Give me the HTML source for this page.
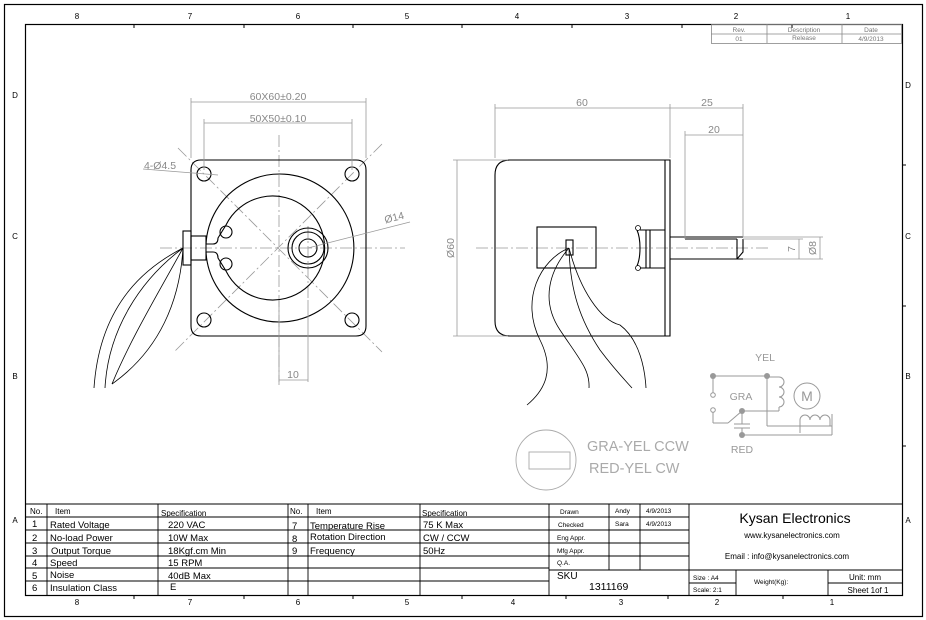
<!DOCTYPE html>
<html><head><meta charset="utf-8"><style>
html,body{margin:0;padding:0;background:#fff;}
svg{display:block;font-family:"Liberation Sans",sans-serif;}
</style></head><body>
<svg width="926" height="620" viewBox="0 0 926 620" xmlns="http://www.w3.org/2000/svg">
<rect width="926" height="620" fill="#fff"/>
<!-- frames -->
<rect x="4.5" y="4.5" width="918" height="612" fill="none" stroke="#000" stroke-width="1.2"/>
<rect x="25.5" y="24.5" width="877" height="571" fill="none" stroke="#000" stroke-width="1.2"/>
<g font-size="8" text-anchor="middle" fill="#000">
<text x="77" y="19">8</text><text x="190" y="19">7</text><text x="298" y="19">6</text><text x="407" y="19">5</text><text x="517" y="19">4</text><text x="627" y="19">3</text><text x="736" y="19">2</text><text x="848" y="19">1</text>
<text x="77" y="605">8</text><text x="190" y="605">7</text><text x="298" y="605">6</text><text x="407" y="605">5</text><text x="513" y="605">4</text><text x="621" y="605">3</text><text x="717" y="605">2</text><text x="832" y="605">1</text>
<text x="15" y="98">D</text><text x="15" y="239">C</text><text x="15" y="379">B</text><text x="15" y="523">A</text>
<text x="908" y="88">D</text><text x="908" y="239">C</text><text x="908" y="379">B</text><text x="908" y="523">A</text>
</g>
<g stroke="#000" stroke-width="1">
<line x1="134" y1="24" x2="134" y2="28"/><line x1="244" y1="24" x2="244" y2="28"/><line x1="353" y1="24" x2="353" y2="28"/><line x1="462" y1="24" x2="462" y2="28"/><line x1="572" y1="24" x2="572" y2="28"/><line x1="682" y1="24" x2="682" y2="28"/><line x1="792" y1="24" x2="792" y2="28"/>
<line x1="134" y1="595" x2="134" y2="599"/><line x1="244" y1="595" x2="244" y2="599"/><line x1="353" y1="595" x2="353" y2="599"/><line x1="462" y1="595" x2="462" y2="599"/><line x1="566" y1="595" x2="566" y2="599"/><line x1="668" y1="595" x2="668" y2="599"/><line x1="783" y1="595" x2="783" y2="599"/>
<line x1="902" y1="165" x2="906" y2="165"/><line x1="902" y1="306" x2="906" y2="306"/><line x1="902" y1="446" x2="906" y2="446"/>
</g>
<!-- revision block -->
<g stroke="#888" stroke-width="0.8" fill="none">
<rect x="711.5" y="24.5" width="190" height="19"/><line x1="711" y1="34" x2="901" y2="34"/><line x1="767" y1="24" x2="767" y2="43"/><line x1="842" y1="24" x2="842" y2="43"/>
</g>
<g font-size="6.5" fill="#777" text-anchor="middle"><text x="739" y="32">Rev.</text><text x="804" y="32">Description</text><text x="871" y="32">Date</text>
<text x="739" y="41">01</text><text x="804" y="40">Release</text><text x="871" y="41">4/9/2013</text></g>

<!-- FRONT VIEW -->
<g stroke="#999" stroke-width="0.8" fill="none" stroke-dasharray="12 3 2 3">
<line x1="160" y1="248" x2="405" y2="248"/><line x1="279" y1="135" x2="279" y2="385"/>
<line x1="178" y1="148" x2="382" y2="352"/><line x1="382" y1="144" x2="174" y2="352"/>
<line x1="308" y1="226" x2="308" y2="300"/>
</g>
<g stroke="#000" stroke-width="1.1" fill="none">
<path d="M201,160 H356 Q366,160 366,170 V326 Q366,336 356,336 H201 Q191,336 191,326 V170 Q191,160 201,160 Z"/>
<path d="M206,244 A74,74 0 1 1 206,252"/>
<path d="M206,244 H213 M206,252 H213"/>
<path d="M213,244 Q218,244 218,238 L226,225 A52,52 0 1 1 226,271 L218,258 Q218,252 213,252"/>
<circle cx="226" cy="232" r="6"/><circle cx="226" cy="264" r="6"/>
<circle cx="204" cy="174" r="7"/><circle cx="352" cy="174" r="7"/><circle cx="204" cy="320" r="7"/><circle cx="352" cy="320" r="7"/>
<circle cx="308" cy="248" r="20"/><circle cx="308" cy="248" r="16"/><circle cx="308" cy="248" r="9"/>
<rect x="183" y="231" width="8" height="34"/><rect x="191" y="236" width="15" height="24"/>
</g>
<g stroke="#000" stroke-width="0.8" fill="none">
<path d="M183,248 C150,265 100,300 94,388"/><path d="M183,248 C140,280 108,330 105,388"/>
<path d="M183,248 C160,290 130,340 112,384"/><path d="M183,248 C180,300 160,350 112,384"/>
</g>
<g stroke="#999" stroke-width="0.8" fill="none">
<line x1="191" y1="158" x2="191" y2="98"/><line x1="366" y1="158" x2="366" y2="98"/><line x1="191" y1="102" x2="366" y2="102"/>
<line x1="204" y1="170" x2="204" y2="119"/><line x1="352" y1="170" x2="352" y2="119"/><line x1="204" y1="123" x2="352" y2="123"/>
<line x1="279" y1="300" x2="279" y2="382"/><line x1="308" y1="300" x2="308" y2="382"/><line x1="279" y1="380" x2="308" y2="380"/>
<line x1="143" y1="169" x2="218" y2="175"/>
<line x1="308" y1="248" x2="410" y2="222"/>
</g>
<g font-size="10.5" fill="#888" text-anchor="middle">
<text x="278" y="100">60X60±0.20</text><text x="278" y="122">50X50±0.10</text>
<text x="293" y="378">10</text><text x="160" y="169">4-Ø4.5</text><text x="395" y="221" transform="rotate(-14 395 221)">Ø14</text>
</g>

<!-- SIDE VIEW -->
<g stroke="#999" stroke-width="0.8" fill="none" stroke-dasharray="12 3 2 3">
<line x1="476" y1="248" x2="768" y2="248"/>
</g>
<g stroke="#000" stroke-width="1.1" fill="none">
<path d="M510,160 H670 V336 H510 Q495,336 495,321 V175 Q495,160 510,160 Z"/>
<line x1="665" y1="160" x2="665" y2="336"/>
<rect x="537" y="227" width="59" height="41"/>
<rect x="566" y="240" width="7" height="15"/>
<path d="M637,230 Q640,237 640,248 Q640,259 637,266"/>
<path d="M640,230 H665 M640,268 H665 M646,230 V268 M650,230 V268"/>
<path d="M670,237 H743 M670,259 H743 M685,239 H737 M737,239 V259 M737,259 L743,252 V239"/>
</g>
<circle cx="638" cy="228" r="2.5" fill="#fff" stroke="#000" stroke-width="0.8"/>
<circle cx="638" cy="268" r="2.5" fill="#fff" stroke="#000" stroke-width="0.8"/>
<g stroke="#000" stroke-width="0.8" fill="none">
<path d="M569,248 C540,260 520,300 540,340 C555,370 545,390 527,405"/>
<path d="M569,248 C550,270 540,300 560,330 C580,360 590,370 589,388"/>
<path d="M569,248 C570,290 580,320 600,350 C615,370 625,380 632,388"/>
<path d="M569,248 C580,290 600,320 620,325 C640,340 645,370 646,388"/>
</g>
<g stroke="#999" stroke-width="0.8" fill="none">
<line x1="495" y1="158" x2="495" y2="104"/><line x1="670" y1="158" x2="670" y2="104"/><line x1="743" y1="237" x2="743" y2="104"/>
<line x1="495" y1="108" x2="743" y2="108"/>
<line x1="685" y1="239" x2="685" y2="131"/><line x1="685" y1="135" x2="743" y2="135"/>
<line x1="508" y1="160" x2="453" y2="160"/><line x1="508" y1="336" x2="453" y2="336"/><line x1="457" y1="160" x2="457" y2="336"/>
<line x1="743" y1="239" x2="803" y2="239"/><line x1="743" y1="259" x2="823" y2="259"/><line x1="743" y1="237" x2="823" y2="237"/>
<line x1="799" y1="239" x2="799" y2="259"/><line x1="820" y1="237" x2="820" y2="259"/>
</g>
<g font-size="10.5" fill="#888" text-anchor="middle">
<text x="582" y="106">60</text><text x="707" y="106">25</text><text x="714" y="133">20</text>
<text x="454" y="248" transform="rotate(-90 454 248)">Ø60</text>
<text x="795" y="249" transform="rotate(-90 795 249)">7</text>
<text x="816" y="248" transform="rotate(-90 816 248)">Ø8</text>
</g>

<!-- schematic -->
<g stroke="#999" stroke-width="1" fill="none">
<line x1="713" y1="376" x2="767" y2="376"/><line x1="713" y1="376" x2="713" y2="393"/>
<line x1="767" y1="376" x2="767" y2="426"/><line x1="767" y1="426" x2="832" y2="426"/><line x1="832" y1="426" x2="832" y2="414"/>
<path d="M767,377 H779 M779,377 a5,5 0 0 1 0,10 a5,5 0 0 1 0,10 a5,5 0 0 1 0,10"/>
<line x1="742" y1="411" x2="779" y2="411"/><line x1="779" y1="411" x2="779" y2="407"/>
<path d="M800,420 a5,5 0 0 1 10,0 a5,5 0 0 1 10,0 a5,5 0 0 1 10,0 v6"/><line x1="800" y1="420" x2="800" y2="433"/>
<line x1="742" y1="435" x2="832" y2="435"/><line x1="832" y1="435" x2="832" y2="426"/>
<line x1="713" y1="412" x2="713" y2="423"/><line x1="713" y1="423" x2="728" y2="423"/><line x1="728" y1="423" x2="742" y2="411"/>
<line x1="742" y1="411" x2="742" y2="424"/><line x1="734" y1="424" x2="750" y2="424"/><line x1="734" y1="428" x2="750" y2="428"/><line x1="742" y1="428" x2="742" y2="435"/>
<circle cx="807" cy="396" r="13"/>
</g>
<g fill="#999"><circle cx="713" cy="376" r="3"/><circle cx="767" cy="376" r="3"/><circle cx="742" cy="411" r="3"/><circle cx="742" cy="435" r="3"/></g>
<g fill="#fff" stroke="#999"><circle cx="713" cy="395" r="2.3"/><circle cx="713" cy="410" r="2.3"/></g>
<g font-size="10.5" fill="#999" text-anchor="middle"><text x="765" y="361">YEL</text><text x="741" y="400">GRA</text><text x="742" y="453">RED</text><text x="807" y="401" font-size="14">M</text></g>

<circle cx="546" cy="460" r="30" fill="none" stroke="#aaa" stroke-width="0.9"/>
<rect x="529" y="452" width="41" height="17" fill="none" stroke="#aaa" stroke-width="0.9"/>
<g font-size="14.5" fill="#aaa"><text x="587" y="451">GRA-YEL  CCW</text><text x="589" y="473">RED-YEL  CW</text></g>

<!-- spec table -->
<g stroke="#000" stroke-width="0.9" fill="none">
<line x1="25" y1="504" x2="902" y2="504"/>
<line x1="25" y1="517" x2="549" y2="517"/><line x1="25" y1="530" x2="549" y2="530"/><line x1="25" y1="543" x2="549" y2="543"/><line x1="25" y1="556" x2="549" y2="556"/><line x1="25" y1="568" x2="549" y2="568"/><line x1="25" y1="581" x2="549" y2="581"/>
<line x1="47" y1="504" x2="47" y2="595"/><line x1="158" y1="504" x2="158" y2="595"/><line x1="288" y1="504" x2="288" y2="595"/><line x1="308" y1="504" x2="308" y2="595"/><line x1="420" y1="504" x2="420" y2="595"/><line x1="549" y1="504" x2="549" y2="595"/>
<line x1="549" y1="517" x2="689" y2="517"/><line x1="549" y1="530" x2="689" y2="530"/><line x1="549" y1="543" x2="689" y2="543"/><line x1="549" y1="556" x2="689" y2="556"/><line x1="549" y1="570" x2="902" y2="570"/>
<line x1="609" y1="504" x2="609" y2="570"/><line x1="640" y1="504" x2="640" y2="570"/><line x1="689" y1="504" x2="689" y2="595"/>
<line x1="736" y1="570" x2="736" y2="595"/><line x1="828" y1="570" x2="828" y2="595"/>
<line x1="689" y1="583" x2="736" y2="583"/><line x1="828" y1="583" x2="902" y2="583"/>
</g>
<g font-size="8" fill="#000">
<text x="30" y="514">No.</text><text x="55" y="514">Item</text><text x="161" y="516">Specification</text>
<text x="290" y="514">No.</text><text x="316" y="514">Item</text><text x="422" y="516">Specification</text>
</g>
<g font-size="9.5" fill="#000">
<text x="32" y="527">1</text><text x="50" y="528">Rated Voltage</text><text x="168" y="528">220 VAC</text>
<text x="32" y="541">2</text><text x="50" y="541">No-load Power</text><text x="168" y="541">10W Max</text>
<text x="32" y="554">3</text><text x="51" y="554">Output Torque</text><text x="168" y="554">18Kgf.cm Min</text>
<text x="32" y="566">4</text><text x="50" y="566">Speed</text><text x="168" y="566">15 RPM</text>
<text x="32" y="579">5</text><text x="50" y="578">Noise</text><text x="168" y="579">40dB Max</text>
<text x="32" y="591">6</text><text x="50" y="591">Insulation Class</text><text x="170" y="590">E</text>
<text x="292" y="529">7</text><text x="310" y="529">Temperature Rise</text><text x="423" y="528">75 K Max</text>
<text x="292" y="542">8</text><text x="310" y="540">Rotation Direction</text><text x="423" y="541">CW / CCW</text>
<text x="292" y="554">9</text><text x="310" y="554">Frequency</text><text x="423" y="554">50Hz</text>
</g>
<g font-size="6.5" fill="#000">
<text x="560" y="514">Drawn</text><text x="615" y="513">Andy</text><text x="646" y="513">4/9/2013</text>
<text x="558" y="527">Checked</text><text x="615" y="526">Sara</text><text x="646" y="526">4/9/2013</text>
<text x="557" y="540">Eng Appr.</text><text x="557" y="553">Mfg Appr.</text><text x="557" y="565">Q.A.</text>
<text x="693" y="580">Size : A4</text><text x="693" y="592">Scale: 2:1</text><text x="754" y="584">Weight(Kg):</text>
</g>
<text x="557" y="579" font-size="10" fill="#000">SKU</text>
<text x="589" y="590" font-size="10.5" fill="#000">1311169</text>
<text x="795" y="523" font-size="14" fill="#000" text-anchor="middle">Kysan Electronics</text>
<text x="792" y="538" font-size="8" fill="#000" text-anchor="middle">www.kysanelectronics.com</text>
<text x="787" y="559" font-size="8" fill="#000" text-anchor="middle">Email : info@kysanelectronics.com</text>
<text x="865" y="580" font-size="8" fill="#000" text-anchor="middle">Unit: mm</text>
<text x="868" y="593" font-size="8" fill="#000" text-anchor="middle">Sheet 1of 1</text>
</svg>
</body></html>
